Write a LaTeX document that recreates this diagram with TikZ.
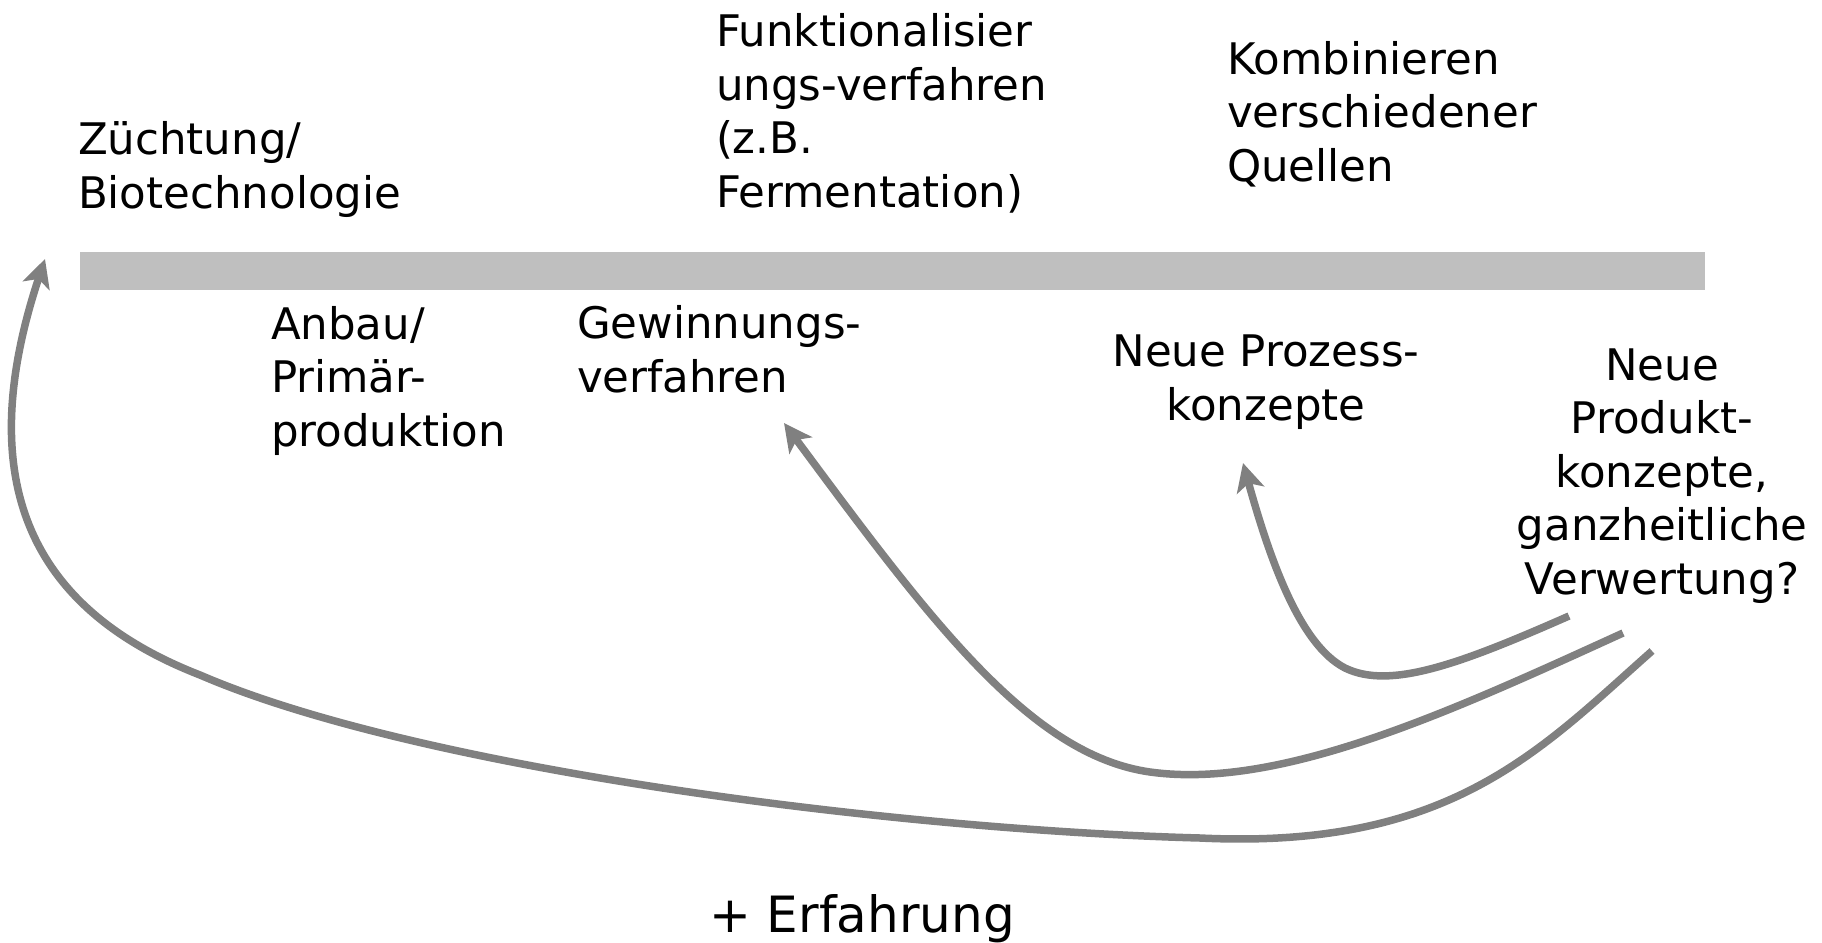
\documentclass[tikz,border=0pt]{standalone}
\usepackage{fontspec}
\setmainfont{DejaVu Sans}
\usetikzlibrary{arrows.meta}
\definecolor{bargray}{HTML}{BFBFBF}
\definecolor{arrowgray}{HTML}{808080}
\begin{document}
\begin{tikzpicture}[x=1pt,y=-1pt,
  lbl/.style={inner sep=0pt, outer sep=0pt, font=\fontsize{43.5}{53.5}\selectfont},
  lbll/.style={lbl, align=left, anchor=base west},
  lblc/.style={lbl, align=center, anchor=base},
  flow/.style={draw=arrowgray, line width=7.5pt, -{Stealth[length=28pt,width=28pt,inset=7pt]}}]
\useasboundingbox (0,0) rectangle (1822,942);
\node[fill=bargray, inner sep=0pt, minimum width=1625pt, minimum height=38pt, anchor=north west] (bar) at (80,252) {};
% base anchor of a multi-line node = baseline of its last line
\node[lbll] (zucht) at (78,208) {Züchtung/\\Biotechnologie};
\node[lbll] (funk) at (716,207) {Funktionalisier\\ungs-verfahren\\(z.B.\\Fermentation)};
\node[lbll] (komb) at (1227,181) {Kombinieren\\verschiedener\\Quellen};
\node[lbll] (anbau) at (271,446) {Anbau/\\Primär-\\produktion};
\node[lbll] (gew) at (577,392) {Gewinnungs-\\verfahren};
\node[lblc] (proz) at (1266,420) {Neue Prozess-\\konzepte};
\node[lblc] (prod) at (1662,594) {Neue\\Produkt-\\konzepte,\\ganzheitliche\\Verwertung?};
\node[lbl, anchor=base, font=\fontsize{50}{60}\selectfont] (erf) at (862,932) {+ Erfahrung};
\coordinate (s1) at (1569,616);
\coordinate (s2) at (1623,633);
\coordinate (s3) at (1652,651);
\coordinate (t1) at (1243,463);
\coordinate (t2) at (784,423);
\coordinate (t3) at (45,259);
\draw[flow] (s1) .. controls (1460,664) and (1390,690) .. (1345,668) .. controls (1300,645) and (1270,560) .. (t1);
\draw[flow] (s2) .. controls (1450,712) and (1280,790) .. (1150,772) .. controls (1030,755) and (930,620) .. (t2);
\draw[flow] (s3) .. controls (1540,750) and (1450,850) .. (1200,838) .. controls (900,830) and (420,770) .. (200,675) .. controls (20,605) and (-25,470) .. (t3);
\end{tikzpicture}
\end{document}
